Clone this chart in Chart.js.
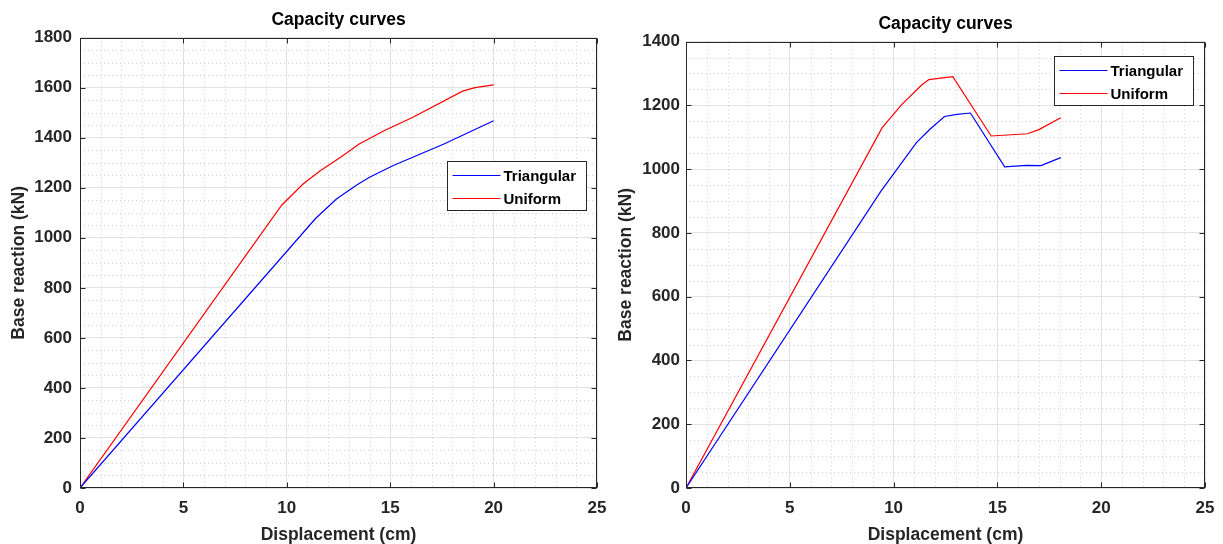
<!DOCTYPE html>
<html>
<head>
<meta charset="utf-8">
<script src="https://cdn.jsdelivr.net/npm/chart.js@4/dist/chart.umd.min.js"></script>
<style>
body { margin: 0; background: #fff; width: 1223px; height: 544px; overflow: hidden; position: relative; }
canvas { position: absolute; top: 0; }
</style>
</head>
<body>
<canvas id="chartA" width="611" height="544" style="left:0px"></canvas>
<canvas id="chartB" width="612" height="544" style="left:611px"></canvas>
<script>
// series names
var seriesLabels = ['Triangular', 'Uniform']
var seriesColors = ['#0000ff', '#ff0000']

// left plot - displacement (cm) / base reaction (kN)
var dispTriA = [0, 11.4, 12.4, 13.4, 14, 15.15, 17.6, 20]
var forceTriA = [0, 1078, 1155, 1212, 1242, 1289, 1375, 1468]
var dispUniA = [0, 9.75, 10.8, 11.6, 12.6, 13.5, 14.7, 16.1, 18.5, 19.1, 20]
var forceUniA = [0, 1130, 1216, 1267, 1322, 1375, 1428, 1482, 1586, 1600, 1611]

// right plot
var dispTriB = [0, 9.4, 11.1, 11.75, 12.45, 13.05, 13.7, 15.35, 16.4, 17.1, 18.05]
var forceTriB = [0, 932, 1083, 1125, 1165, 1172, 1176, 1007, 1012, 1011, 1036]
var dispUniB = [0, 9.45, 10.4, 11.35, 11.7, 12.85, 14.7, 16.45, 17.0, 18.05]
var forceUniB = [0, 1130, 1203, 1264, 1281, 1290, 1104, 1111, 1124, 1161]

// axis ticks
var xTicks = [0, 5, 10, 15, 20, 25]
var yTicksA = [0, 200, 400, 600, 800, 1000, 1200, 1400, 1600, 1800]
var yTicksB = [0, 200, 400, 600, 800, 1000, 1200, 1400]

var txt = '#262626'
var fontFam = '"Liberation Sans", Arial, sans-serif'

function toPoints(xs, ys) {
    var pts = []
    for (i = 0; i < xs.length; i++) {
        pts.push({x: xs[i], y: ys[i]})
    }
    return pts
}

// dotted minor grid, MATLAB style
const minorGrid = {
    id: 'minorGrid',
    beforeDatasetsDraw(chart, args, opts) {
        const {ctx, chartArea: a, scales: {x, y}} = chart
        ctx.save()
        ctx.strokeStyle = '#cfcfcf'
        ctx.lineWidth = 1
        ctx.setLineDash([1, 3])
        for (let i = 1; i * opts.xStep < x.max; i++) {
            if (i % opts.xPer === 0) continue
            const px = Math.round(x.getPixelForValue(i * opts.xStep)) + 0.5
            ctx.beginPath(); ctx.moveTo(px, a.top); ctx.lineTo(px, a.bottom); ctx.stroke()
        }
        for (let i = 1; i * opts.yStep < y.max; i++) {
            if (i % opts.yPer === 0) continue
            const py = Math.round(y.getPixelForValue(i * opts.yStep)) + 0.5
            ctx.beginPath(); ctx.moveTo(a.left, py); ctx.lineTo(a.right, py); ctx.stroke()
        }
        ctx.restore()
    }
}

// box around the axes with inward ticks
const frame = {
    id: 'frame',
    afterDatasetsDraw(chart) {
        const {ctx, chartArea: a, scales: {x, y}} = chart
        const L = Math.round(a.left) + 0.5, R = Math.round(a.right) - 0.5
        const T = Math.round(a.top) + 0.5, B = Math.round(a.bottom) - 0.5
        ctx.save()
        ctx.strokeStyle = txt
        ctx.lineWidth = 1
        ctx.strokeRect(L, T, R - L, B - T)
        ctx.beginPath()
        x.ticks.forEach(t => {
            const px = Math.round(x.getPixelForValue(t.value)) + 0.5
            ctx.moveTo(px, B); ctx.lineTo(px, B - 5)
            ctx.moveTo(px, T); ctx.lineTo(px, T + 5)
        })
        y.ticks.forEach(t => {
            const py = Math.round(y.getPixelForValue(t.value)) + 0.5
            ctx.moveTo(L, py); ctx.lineTo(L + 5, py)
            ctx.moveTo(R, py); ctx.lineTo(R - 5, py)
        })
        ctx.stroke()
        ctx.restore()
    }
}

// legend box inside the plot
const boxLegend = {
    id: 'boxLegend',
    afterDraw(chart, args, opts) {
        const {ctx, chartArea: a} = chart
        const w = 139, h = 49
        const bx = Math.round(a.right - opts.right - w) + 0.5
        const by = Math.round(a.top + opts.top) + 0.5
        ctx.save()
        ctx.fillStyle = '#fff'
        ctx.fillRect(bx, by, w, h)
        ctx.strokeStyle = txt
        ctx.lineWidth = 1
        ctx.strokeRect(bx, by, w, h)
        ctx.font = 'bold 15px ' + fontFam
        ctx.textBaseline = 'middle'
        chart.data.datasets.forEach((ds, k) => {
            const ly = Math.round(by + 13 + k * 23) + 0.5
            ctx.strokeStyle = ds.borderColor
            ctx.lineWidth = 1.2
            ctx.beginPath(); ctx.moveTo(bx + 5, ly); ctx.lineTo(bx + 53, ly); ctx.stroke()
            ctx.fillStyle = '#000'
            ctx.fillText(ds.label, bx + 56, ly + 1)
        })
        ctx.restore()
    }
}

function makeChart(id, sets, yMax, yTicks, opt) {
    return new Chart(document.getElementById(id).getContext('2d'), {
        type: 'scatter',
        data: {
            datasets: sets.map((s, k) => ({
                label: seriesLabels[k],
                data: toPoints(s[0], s[1]),
                showLine: true,
                borderColor: seriesColors[k],
                backgroundColor: seriesColors[k],
                borderWidth: 1.2,
                pointRadius: 0,
                tension: 0
            }))
        },
        options: {
            responsive: false,
            animation: false,
            devicePixelRatio: 1,
            layout: {padding: {left: 0, right: opt.padRight, top: 0, bottom: 0}},
            plugins: {
                legend: {display: false},
                tooltip: {enabled: false},
                title: {
                    display: true,
                    text: 'Capacity curves',
                    fullSize: false,
                    color: '#000',
                    font: {family: fontFam, size: 17.5, weight: 'bold', lineHeight: 1.2},
                    padding: opt.titlePad
                },
                minorGrid: {xStep: 1, xPer: 5, yStep: 50, yPer: 4},
                boxLegend: opt.legend
            },
            scales: {
                x: {
                    type: 'linear',
                    min: 0, max: 25,
                    afterBuildTicks: s => { s.ticks = xTicks.map(v => ({value: v})) },
                    afterFit: s => { s.height = 56; s.paddingLeft = 0; s.paddingRight = 0 },
                    ticks: {color: txt, font: {family: fontFam, size: 17, weight: 'bold'}, padding: 10, maxRotation: 0, autoSkip: false,
                        callback: v => String(v)},
                    grid: {color: '#e2e2e2', drawTicks: false},
                    border: {display: false},
                    title: {display: true, text: 'Displacement (cm)', color: txt, padding: 0,
                        font: {family: fontFam, size: 17.5, weight: 'bold', lineHeight: 1}}
                },
                y: {
                    type: 'linear',
                    min: 0, max: yMax,
                    afterBuildTicks: s => { s.ticks = yTicks.map(v => ({value: v})) },
                    afterFit: s => { s.width = opt.yWidth; s.paddingTop = 0; s.paddingBottom = 0 },
                    ticks: {color: txt, font: {family: fontFam, size: 17, weight: 'bold'}, padding: opt.yTickPad, autoSkip: false,
                        callback: v => String(v)},
                    grid: {color: '#e2e2e2', drawTicks: false},
                    border: {display: false},
                    title: {display: true, text: 'Base reaction (kN)', color: txt, padding: {top: opt.yTitlePad, bottom: 0},
                        font: {family: fontFam, size: 17.5, weight: 'bold', lineHeight: 1}}
                }
            }
        },
        plugins: [minorGrid, frame, boxLegend]
    })
}

makeChart('chartA', [[dispTriA, forceTriA], [dispUniA, forceUniA]], 1800, yTicksA, {
    padRight: 14, yWidth: 80, yTickPad: 8, yTitlePad: 10,
    titlePad: {top: 10, bottom: 6.6},
    legend: {right: 11, top: 123}
})
makeChart('chartB', [[dispTriB, forceTriB], [dispUniB, forceUniB]], 1400, yTicksB, {
    padRight: 18, yWidth: 75, yTickPad: 6, yTitlePad: 6,
    titlePad: {top: 13.5, bottom: 7.1},
    legend: {right: 12, top: 14}
})
</script>
</body>
</html>
